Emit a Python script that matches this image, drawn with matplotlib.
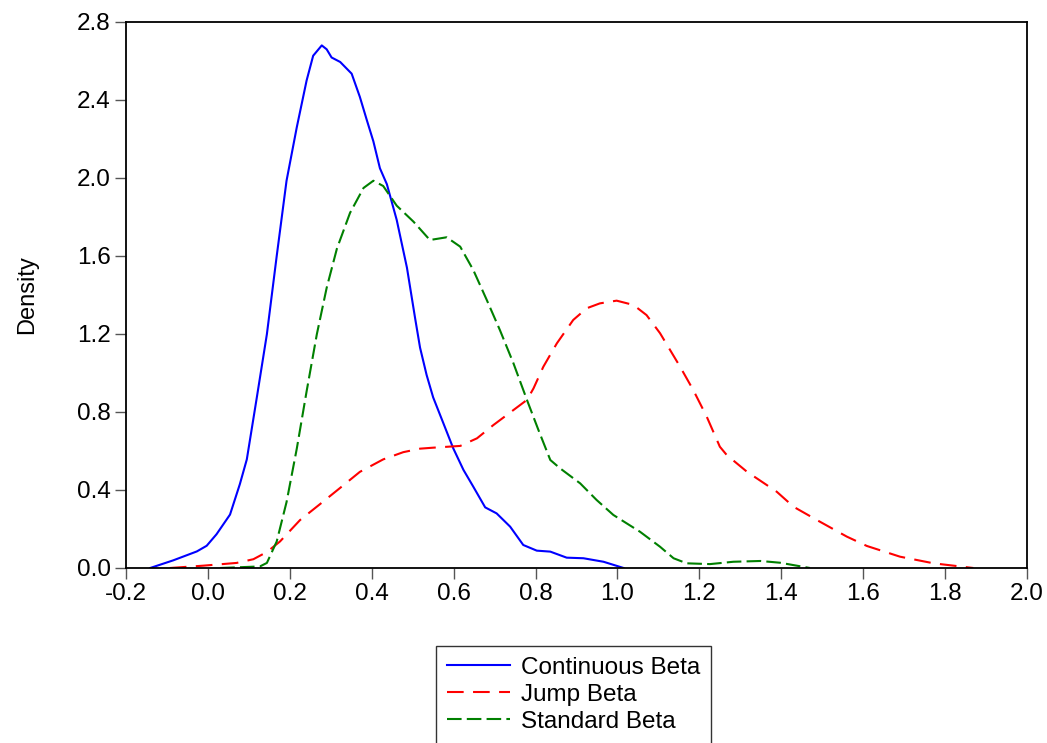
import matplotlib.pyplot as plt

plt.rcParams['font.family'] = ['Liberation Sans', 'DejaVu Sans']

# Kernel density estimates
cont_x = [-0.141, -0.085, -0.027, -0.003, 0.021, 0.054, 0.078, 0.095, 0.119, 0.144,
          0.168, 0.192, 0.217, 0.241, 0.257, 0.278, 0.29, 0.302, 0.323, 0.351,
          0.371, 0.388, 0.404, 0.42, 0.437, 0.461, 0.486, 0.506, 0.518, 0.534,
          0.55, 0.575, 0.599, 0.624, 0.648, 0.677, 0.705, 0.738, 0.77, 0.803,
          0.836, 0.876, 0.917, 0.966, 1.015]
cont_y = [0.0, 0.039, 0.085, 0.114, 0.173, 0.274, 0.43, 0.557, 0.869, 1.199,
          1.60, 1.986, 2.26, 2.50, 2.627, 2.68, 2.66, 2.618, 2.595, 2.535,
          2.416, 2.297, 2.188, 2.05, 1.968, 1.785, 1.54, 1.28, 1.13, 0.99,
          0.875, 0.742, 0.614, 0.503, 0.417, 0.311, 0.28, 0.212, 0.118, 0.089,
          0.084, 0.053, 0.05, 0.032, 0.0]

jump_x = [-0.093, -0.011, 0.07, 0.111, 0.144, 0.176, 0.225, 0.274, 0.323, 0.371,
          0.428, 0.477, 0.518, 0.55, 0.616, 0.657, 0.697, 0.746, 0.779, 0.795,
          0.819, 0.852, 0.892, 0.925, 0.957, 0.998, 1.039, 1.071, 1.104, 1.153,
          1.185, 1.218, 1.25, 1.267, 1.316, 1.389, 1.43, 1.487, 1.56, 1.609,
          1.69, 1.772, 1.869]
jump_y = [0.0, 0.012, 0.026, 0.045, 0.082, 0.136, 0.246, 0.328, 0.411, 0.493,
          0.557, 0.594, 0.612, 0.617, 0.626, 0.665, 0.733, 0.81, 0.862, 0.921,
          1.032, 1.152, 1.272, 1.332, 1.357, 1.371, 1.349, 1.297, 1.204, 1.032,
          0.913, 0.776, 0.622, 0.579, 0.494, 0.391, 0.314, 0.246, 0.161, 0.113,
          0.058, 0.024, 0.0]

std_x = [0.03, 0.127, 0.144, 0.168, 0.192, 0.217, 0.241, 0.266, 0.29, 0.315,
         0.347, 0.38, 0.404, 0.428, 0.461, 0.502, 0.542, 0.583, 0.616, 0.648,
         0.681, 0.713, 0.746, 0.779, 0.807, 0.836, 0.86, 0.909, 0.949, 0.99,
         1.055, 1.104, 1.137, 1.169, 1.226, 1.283, 1.349, 1.397, 1.47]
std_y = [0.0, 0.008, 0.026, 0.136, 0.338, 0.612, 0.906, 1.199, 1.437, 1.638,
         1.821, 1.949, 1.986, 1.959, 1.858, 1.776, 1.682, 1.696, 1.648, 1.528,
         1.374, 1.22, 1.05, 0.862, 0.708, 0.554, 0.511, 0.434, 0.349, 0.272,
         0.186, 0.109, 0.05, 0.024, 0.02, 0.032, 0.036, 0.027, 0.0]

x_ticks = [-0.2, 0.0, 0.2, 0.4, 0.6, 0.8, 1.0, 1.2, 1.4, 1.6, 1.8, 2.0]
y_ticks = [0.0, 0.4, 0.8, 1.2, 1.6, 2.0, 2.4, 2.8]

fig = plt.figure(figsize=(10.47, 7.43), dpi=100)
ax = fig.add_axes([126 / 1047, 1 - 568 / 743, 901 / 1047, 546 / 743])

ax.plot(cont_x, cont_y, color='#0000ff', lw=1.5, label='Continuous Beta')
ax.plot(jump_x, jump_y, color='#ff0000', lw=1.5, dashes=(8, 4.5), label='Jump Beta')
ax.plot(std_x, std_y, color='#008000', lw=1.5, dashes=(7, 2.5), label='Standard Beta')

ax.set_xlim(-0.2, 2.0)
ax.set_ylim(0, 2.8)
ax.set_xticks(x_ticks)
ax.set_xticklabels([f'{v:.1f}' for v in x_ticks])
ax.set_yticks(y_ticks)
ax.set_yticklabels([f'{v:.1f}' for v in y_ticks])
ax.tick_params(direction='out', length=8, width=1, color='#555555',
               labelsize=17.5, pad=3)
for s in ax.spines.values():
    s.set_linewidth(1.3)

ax.set_ylabel('Density', fontsize=17)
ax.yaxis.set_label_coords(-0.097, 0.5)

leg = fig.legend(loc='upper left', bbox_to_anchor=(436 / 1047, 1 - 646 / 743),
                 fontsize=17.5, frameon=True, fancybox=False, edgecolor='black',
                 handlelength=2.6, handletextpad=0.45, labelspacing=0.2,
                 borderpad=0.45, borderaxespad=0)
leg.get_frame().set_linewidth(1.0)

fig.savefig('out.png', dpi=100)
